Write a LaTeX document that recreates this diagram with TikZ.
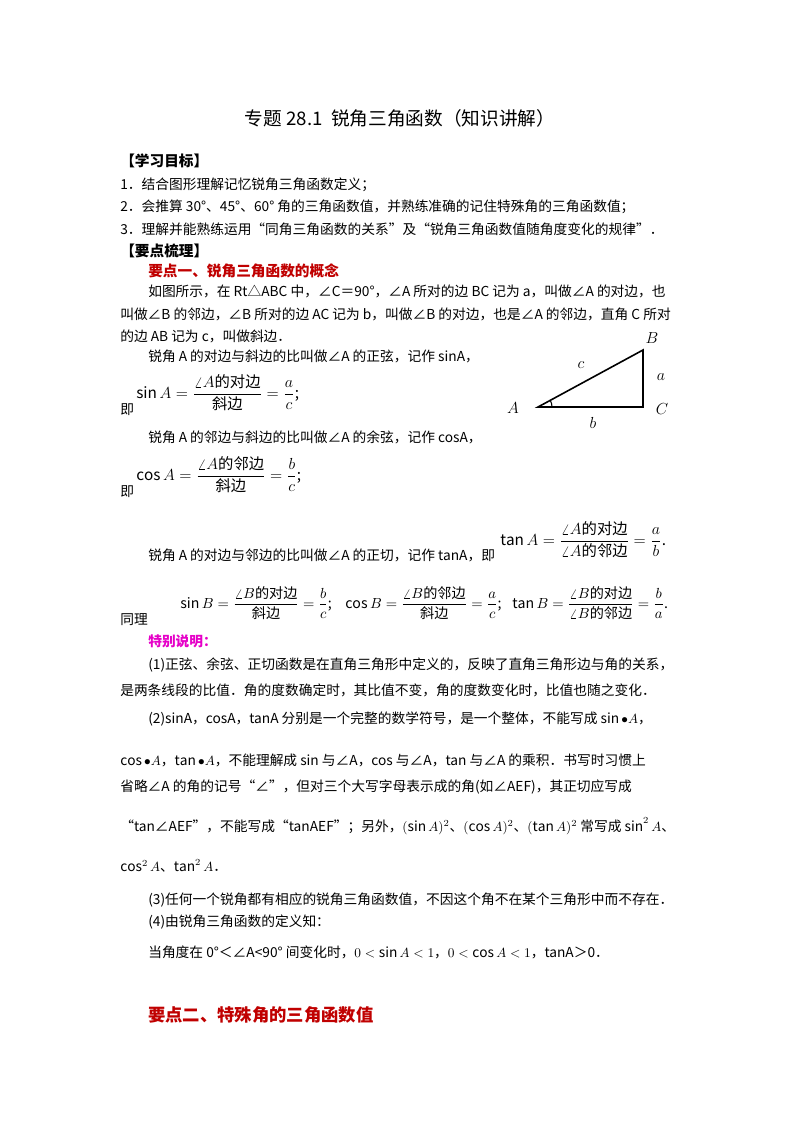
\documentclass[tikz,border=0pt]{standalone}
\usepackage{amsmath}
\usepackage{fontspec}
\setmainfont{Noto Sans CJK SC}
\definecolor{hd}{RGB}{192,0,0}
\definecolor{mg}{RGB}{230,0,200}
\begin{document}
\begin{tikzpicture}[x=0.75pt,y=-0.75pt,
  t/.style={anchor=west,inner sep=0pt,font=\fontsize{10.3}{12}\selectfont},
  f/.style={anchor=west,inner sep=0pt,font=\fontsize{11.5}{14}\selectfont},
  fb/.style={anchor=west,inner sep=0pt,font=\fontsize{10.6}{13}\selectfont},
  lb/.style={font=\fontsize{12}{14}\selectfont\itshape}]
\useasboundingbox[fill=white] (0,0) rectangle (800,1132);
\node[inner sep=0pt,font=\fontsize{14}{16}\selectfont] (title) at (400,118) {专题 28.1\ \ 锐角三角函数（知识讲解）};
\node[t,font=\fontsize{11}{13}\bfseries] (h1) at (120,161) {【学习目标】};
\node[t] (l1) at (120,185) {1．结合图形理解记忆锐角三角函数定义；};
\node[t] (l2) at (120,207) {2．会推算 30°、45°、60° 角的三角函数值，并熟练准确的记住特殊角的三角函数值；};
\node[t] (l3) at (120,229) {3．理解并能熟练运用“同角三角函数的关系”及“锐角三角函数值随角度变化的规律”．};
\node[t,font=\fontsize{11}{13}\bfseries] (h2) at (120,251) {【要点梳理】};
\node[t,text=hd,font=\fontsize{11}{13}\bfseries] (h3) at (148,271) {要点一、锐角三角函数的概念};
\node[t] (p1) at (148,291) {如图所示，在 Rt△ABC 中，∠C＝90°，∠A 所对的边 BC 记为 a，叫做∠A 的对边，也};
\node[t] (p2) at (120,314) {叫做∠B 的邻边，∠B 所对的边 AC 记为 b，叫做∠B 的对边，也是∠A 的邻边，直角 C 所对};
\node[t] (p3) at (120,336) {的边 AB 记为 c，叫做斜边．};
\node[t] (p4) at (148,356) {锐角 A 的对边与斜边的比叫做∠A 的正弦，记作 sinA，};
\node[f] (fs) at (136,393) {$\displaystyle\sin A=\frac{\angle A\mbox{的对边}}{\mbox{斜边}}=\frac{a}{c}$;};
\node[t] (j1) at (120,410) {即};
\node[t] (p5) at (148,437) {锐角 A 的邻边与斜边的比叫做∠A 的余弦，记作 cosA，};
\node[f] (fc) at (136,475) {$\displaystyle\cos A=\frac{\angle A\mbox{的邻边}}{\mbox{斜边}}=\frac{b}{c}$;};
\node[t] (j2) at (120,492) {即};
\node[f] (ft) at (500,540) {$\displaystyle\tan A=\frac{\angle A\mbox{的对边}}{\angle A\mbox{的邻边}}=\frac{a}{b}$.};
\node[t] (p6) at (148,555) {锐角 A 的对边与邻边的比叫做∠A 的正切，记作 tanA，即};
\node[t] (tl) at (120,620) {同理};
\node[fb] (fsb) at (180,603) {$\displaystyle\sin B=\frac{\angle B\mbox{的对边}}{\mbox{斜边}}=\frac{b}{c}$;};
\node[fb] (fcb) at (345,603) {$\displaystyle\cos B=\frac{\angle B\mbox{的邻边}}{\mbox{斜边}}=\frac{a}{c}$;};
\node[fb] (ftb) at (512,603) {$\displaystyle\tan B=\frac{\angle B\mbox{的对边}}{\angle B\mbox{的邻边}}=\frac{b}{a}$.};
\node[t,text=mg,font=\fontsize{10.3}{12}\bfseries] (sp) at (148,641) {特别说明：};
\node[t] (q1) at (148,665) {(1)正弦、余弦、正切函数是在直角三角形中定义的，反映了直角三角形边与角的关系，};
\node[t] (q2) at (120,690) {是两条线段的比值．角的度数确定时，其比值不变，角的度数变化时，比值也随之变化．};
\node[t] (q3) at (148,719) {(2)sinA，cosA，tanA 分别是一个完整的数学符号，是一个整体，不能写成 $\sin\bullet A$，};
\node[t] (q4) at (120,760) {$\cos\bullet A$，$\tan\bullet A$，不能理解成 sin 与∠A，cos 与∠A，tan 与∠A 的乘积．书写时习惯上};
\node[t] (q5) at (120,787) {省略∠A 的角的记号“∠”，但对三个大写字母表示成的角(如∠AEF)，其正切应写成};
\node[t] (q6) at (120,826) {“tan∠AEF”，不能写成“tanAEF”；另外，$(\sin A)^2$、$(\cos A)^2$、$(\tan A)^2$ 常写成 $\sin^2 A$、};
\node[t] (q7) at (120,866) {$\cos^2 A$、$\tan^2 A$．};
\node[t] (q8) at (148,900) {(3)任何一个锐角都有相应的锐角三角函数值，不因这个角不在某个三角形中而不存在．};
\node[t] (q9) at (148,922) {(4)由锐角三角函数的定义知：};
\node[t] (q10) at (148,952) {当角度在 0°＜∠A<90° 间变化时，$0<\sin A<1$，$0<\cos A<1$，tanA＞0．};
\node[t,text=hd,font=\fontsize{13}{15}\bfseries] (h4) at (148,1015) {要点二、特殊角的三角函数值};
% triangle
\coordinate (A) at (538,407);
\coordinate (B) at (643,350);
\coordinate (C) at (643,407);
\draw[line width=1.2pt] (A) -- (B) -- (C) -- cycle;
\draw[line width=0.8pt] (A) ++(14,0) arc[start angle=0,end angle=-28.5,radius=14];
\node[lb] (LA) at (513,408) {$A$};
\node[lb] (LB) at (652,338) {$B$};
\node[lb] (LC) at (662,409) {$C$};
\node[lb] (La) at (661,377) {$a$};
\node[lb] (Lb) at (593,423) {$b$};
\node[lb] (Lc) at (581,365) {$c$};
\end{tikzpicture}
\end{document}
